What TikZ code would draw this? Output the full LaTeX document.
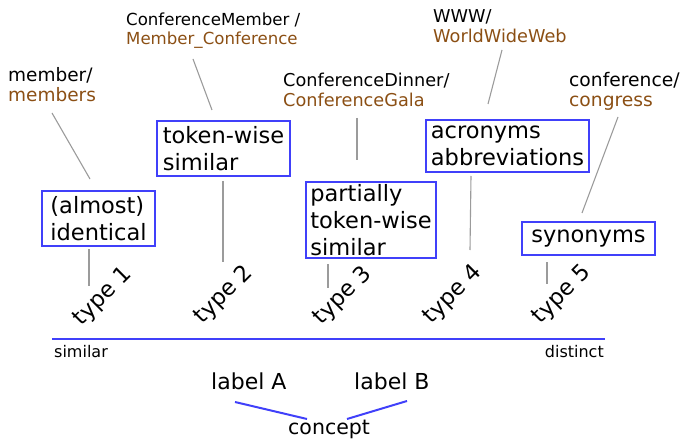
\documentclass[tikz,border=0pt]{standalone}
\usepackage{fontspec}
\setmainfont{DejaVu Sans}
\definecolor{axisblue}{RGB}{64,64,250}
\definecolor{termbrown}{RGB}{139,79,20}
\definecolor{leadgray}{RGB}{155,155,155}
\tikzset{
  x=1pt, y=-1pt,
  typebox/.style={draw=axisblue, line width=1.5pt, inner sep=0pt, align=left,
    font=\fontsize{22.5}{27}\selectfont},
  term/.style={anchor=base west, inner sep=0pt, font=\fontsize{17.7}{20}\selectfont},
  alt/.style={term, text=termbrown},
  typelabel/.style={rotate=45, inner sep=0pt, font=\fontsize{22.5}{24}\selectfont},
  lead/.style={draw=leadgray, line width=1.1pt},
  bluelink/.style={draw=axisblue, line width=2pt},
  endlabel/.style={anchor=base west, inner sep=0pt, font=\fontsize{16}{18}\selectfont},
  biglabel/.style={anchor=base west, inner sep=0pt, font=\fontsize{22}{24}\selectfont}
}
\begin{document}
\begin{tikzpicture}
\useasboundingbox (0,0) rectangle (683,441);

% example term pairs
\node[term, font=\fontsize{18.5}{21}\selectfont] (t1a) at (8,82) {member/};
\node[alt,  font=\fontsize{18.5}{21}\selectfont] (t1b) at (8,102) {members};
\node[term, font=\fontsize{16.6}{19}\selectfont] (t2a) at (126,26) {ConferenceMember /};
\node[alt,  font=\fontsize{16.6}{19}\selectfont] (t2b) at (126,45) {Member\_Conference};
\node[term] (t3a) at (283,87) {ConferenceDinner/};
\node[alt]  (t3b) at (283,107) {ConferenceGala};
\node[term] (t4a) at (433,23) {WWW/};
\node[alt]  (t4b) at (433,43) {WorldWideWeb};
\node[term, font=\fontsize{18.7}{21}\selectfont] (t5a) at (569,87) {conference/};
\node[alt,  font=\fontsize{18.7}{21}\selectfont] (t5b) at (569,107) {congress};

% similarity categories
\node[typebox, minimum width=113pt, minimum height=55pt] (b1) at (98.5,218.5) {(almost)\\identical};
\node[typebox, minimum width=133pt, minimum height=55pt] (b2) at (223.5,148.5) {token-wise\\similar};
\node[typebox, minimum width=130pt, minimum height=76pt] (b3) at (371,220) {partially\\token-wise\\similar};
\node[typebox, minimum width=163pt, minimum height=52pt] (b4) at (507.5,146) {acronyms\\abbreviations};
\node[typebox, minimum width=133pt, minimum height=33pt] (b5) at (588.5,238.5) {synonyms};

% type labels
\node[typelabel] (y1) at (103,297) {type 1};
\node[typelabel] (y2) at (224,295) {type 2};
\node[typelabel] (y3) at (343,296) {type 3};
\node[typelabel] (y4) at (453,295) {type 4};
\node[typelabel] (y5) at (562,295) {type 5};

% leader line end points
\coordinate (u1s) at (52,113);  \coordinate (u1e) at (90,179);
\coordinate (u2s) at (193,59);  \coordinate (u2e) at (212,110);
\coordinate (u3s) at (357,118); \coordinate (u3e) at (357,160);
\coordinate (u4s) at (502,50);  \coordinate (u4e) at (488,104);
\coordinate (u5s) at (618,117); \coordinate (u5e) at (582,213);
\coordinate (d1s) at (89,249);  \coordinate (d1e) at (89,286);
\coordinate (d2s) at (223,181); \coordinate (d2e) at (223,262);
\coordinate (d3s) at (328,264); \coordinate (d3e) at (328,288);
\coordinate (d4s) at (471,176); \coordinate (d4e) at (470,250);
\coordinate (d5s) at (547,262); \coordinate (d5e) at (547,284);

\foreach \k in {1,...,5} {
  \draw[lead] (u\k s) -- (u\k e);
  \draw[lead] (d\k s) -- (d\k e);
}

% similarity axis
\coordinate (axl) at (52,339);
\coordinate (axr) at (605,339);
\draw[draw=axisblue, line width=2.5pt] (axl) -- (axr);
\node[endlabel] (sim) at (54,357) {similar};
\node[endlabel, anchor=base east] (dis) at (604,357) {distinct};

% labels of one concept
\node[biglabel] (la) at (211,389) {label A};
\node[biglabel] (lb) at (354,389) {label B};
\node[biglabel, font=\fontsize{20.5}{24}\selectfont] (cc) at (288,434) {concept};
\coordinate (ka) at (235,402); \coordinate (kc1) at (307,419);
\coordinate (kb) at (407,401); \coordinate (kc2) at (347,419);
\draw[bluelink] (ka) -- (kc1);
\draw[bluelink] (kc2) -- (kb);
\end{tikzpicture}
\end{document}
